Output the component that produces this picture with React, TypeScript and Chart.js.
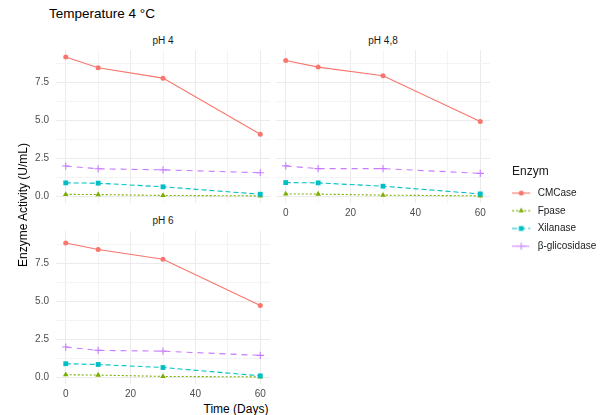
import React, { useEffect, useRef } from "react";
import { Chart, registerables } from "chart.js";
import { drawPoint } from "chart.js/helpers";

Chart.register(...registerables);

// ---------------- data ----------------
const days = [0, 10, 30, 60];
const enzymes = ["CMCase", "Fpase", "Xilanase", "β-glicosidase"];
const panelTitles = ["pH 4", "pH 4,8", "pH 6"];

const cmcasePH4 = [9.2, 8.49, 7.8, 4.09];
const fpasePH4 = [0.12, 0.11, 0.05, 0.02];
const xilanasePH4 = [0.88, 0.86, 0.62, 0.13];
const glicosidasePH4 = [1.99, 1.81, 1.74, 1.55];

const cmcasePH48 = [8.97, 8.53, 7.96, 4.93];
const fpasePH48 = [0.15, 0.14, 0.07, 0.02];
const xilanasePH48 = [0.9, 0.88, 0.66, 0.15];
const glicosidasePH48 = [2.0, 1.82, 1.82, 1.51];

const cmcasePH6 = [8.87, 8.44, 7.79, 4.73];
const fpasePH6 = [0.16, 0.14, 0.05, 0.02];
const xilanasePH6 = [0.89, 0.84, 0.64, 0.09];
const glicosidasePH6 = [1.99, 1.77, 1.72, 1.44];

const xTickLabels = [0, 20, 40, 60];
const xMinorTicks = [10, 30, 50];
const yTickLabels = [0, 2.5, 5, 7.5];
const yMinorTicks = [1.25, 3.75, 6.25, 8.75];

const panelSeries = [
  [cmcasePH4, fpasePH4, xilanasePH4, glicosidasePH4],
  [cmcasePH48, fpasePH48, xilanasePH48, glicosidasePH48],
  [cmcasePH6, fpasePH6, xilanasePH6, glicosidasePH6],
];

// ---------------- style ----------------
const FONT = "'Liberation Sans', Arial, Helvetica, sans-serif";
const colors = ["#F8766D", "#7CAE00", "#00BFC4", "#C77CFF"];
const dashes: number[][] = [[], [2, 2], [5, 3], [6, 5]];
const shapes = ["circle", "triangle", "rect", "cross"];
const radii = [2.5, 3.2, 3.4, 3.6];
const X_MIN = -3, X_MAX = 63, Y_MIN = -0.45, Y_MAX = 9.66;

type Geom = { left: number; top: number; width: number; height: number; yAxisW: number; xAxisH: number; showX: boolean; showY: boolean };
const geoms: Geom[] = [
  { left: 16, top: 50, width: 254, height: 153, yAxisW: 40, xAxisH: 0, showX: false, showY: true },
  { left: 276, top: 50, width: 214, height: 169, yAxisW: 0, xAxisH: 16, showX: true, showY: false },
  { left: 16, top: 231, width: 254, height: 169, yAxisW: 40, xAxisH: 16, showX: true, showY: true },
];
const stripPos = [
  { x: 163, y: 41 },
  { x: 383, y: 41 },
  { x: 163, y: 221 },
];

function zeroPad(s: any) {
  s.paddingLeft = 0; s.paddingRight = 0; s.paddingTop = 0; s.paddingBottom = 0;
}

function panelConfig(series: number[][], g: Geom): any {
  const xAll = [...xTickLabels, ...xMinorTicks].sort((a, b) => a - b);
  const yAll = [...yTickLabels, ...yMinorTicks].sort((a, b) => a - b);
  return {
    type: "line",
    data: {
      datasets: series.map((vals, i) => ({
        label: enzymes[i],
        data: days.map((d, k) => ({ x: d, y: vals[k] })),
        borderColor: colors[i],
        backgroundColor: colors[i],
        borderWidth: 1.1,
        borderDash: dashes[i],
        pointStyle: shapes[i],
        pointRadius: radii[i],
        pointBackgroundColor: colors[i],
        pointBorderColor: colors[i],
        pointBorderWidth: i === 3 ? 1.1 : 0,
        tension: 0,
        order: 3 - i,
        clip: false,
      })),
    },
    options: {
      responsive: false,
      animation: false,
      events: [],
      layout: { padding: 0, autoPadding: false },
      plugins: { legend: { display: false }, tooltip: { enabled: false }, title: { display: false } },
      scales: {
        x: {
          type: "linear",
          min: X_MIN,
          max: X_MAX,
          afterBuildTicks: (s: any) => { s.ticks = xAll.map((v) => ({ value: v })); },
          afterFit: (s: any) => { s.height = g.xAxisH; zeroPad(s); },
          ticks: {
            display: g.showX,
            autoSkip: false,
            maxRotation: 0,
            padding: 4,
            color: "#4D4D4D",
            font: { family: FONT, size: 10 },
            callback: (v: number) => (xTickLabels.includes(v) ? String(v) : ""),
          },
          grid: {
            drawTicks: false,
            lineWidth: 1,
            color: (ctx: any) => (ctx.tick && xTickLabels.includes(ctx.tick.value) ? "#EBEBEB" : "#F4F4F4"),
          },
          border: { display: false },
        },
        y: {
          type: "linear",
          position: "left",
          min: Y_MIN,
          max: Y_MAX,
          afterBuildTicks: (s: any) => { s.ticks = yAll.map((v) => ({ value: v })); },
          afterFit: (s: any) => { s.width = g.yAxisW; zeroPad(s); },
          ticks: {
            display: g.showY,
            autoSkip: false,
            padding: 7,
            color: "#4D4D4D",
            font: { family: FONT, size: 10 },
            callback: (v: number) => (yTickLabels.includes(v) ? v.toFixed(1) : ""),
          },
          grid: {
            drawTicks: false,
            lineWidth: 1,
            color: (ctx: any) => (ctx.tick && yTickLabels.includes(ctx.tick.value) ? "#EBEBEB" : "#F4F4F4"),
          },
          border: { display: false },
        },
      },
    },
  };
}

function makeKey(i: number): HTMLCanvasElement {
  const c = document.createElement("canvas");
  c.width = 28;
  c.height = 10;
  const g = c.getContext("2d")!;
  g.strokeStyle = colors[i];
  g.fillStyle = colors[i];
  g.lineWidth = 1.1;
  g.setLineDash(dashes[i]);
  g.beginPath();
  g.moveTo(0, 5);
  g.lineTo(18, 5);
  g.stroke();
  g.setLineDash([]);
  drawPoint(g, { pointStyle: shapes[i] as any, radius: radii[i], rotation: 0, borderWidth: i === 3 ? 1.1 : 0 }, 9, 5);
  return c;
}

function legendConfig(): any {
  return {
    type: "line",
    data: { datasets: enzymes.map((e) => ({ label: e, data: [] })) },
    options: {
      responsive: false,
      animation: false,
      events: [],
      layout: { padding: 0, autoPadding: false },
      scales: { x: { display: false }, y: { display: false } },
      plugins: {
        tooltip: { enabled: false },
        legend: {
          display: true,
          position: "chartArea",
          align: "start",
          title: {
            display: true,
            text: "Enzym",
            position: "start",
            color: "#1A1A1A",
            font: { family: FONT, size: 12 },
            padding: { top: 0, bottom: 0 },
          },
          labels: {
            usePointStyle: true,
            pointStyleWidth: 13,
            boxHeight: 10,
            padding: 7.7,
            color: "#1A1A1A",
            font: { family: FONT, size: 10 },
            generateLabels: () =>
              enzymes.map((e, i) => ({
                text: e,
                fillStyle: colors[i],
                strokeStyle: colors[i],
                lineWidth: 0,
                pointStyle: makeKey(i),
                hidden: false,
                datasetIndex: i,
                fontColor: "#1A1A1A",
              })),
          },
        },
      },
    },
  };
}

const textBase: React.CSSProperties = {
  position: "absolute",
  fontFamily: FONT,
  whiteSpace: "nowrap",
  lineHeight: 1,
  transform: "translate(-50%, -50%)",
};

export default function App() {
  const refs = [useRef<HTMLCanvasElement>(null), useRef<HTMLCanvasElement>(null), useRef<HTMLCanvasElement>(null)];
  const legendRef = useRef<HTMLCanvasElement>(null);

  useEffect(() => {
    const charts: Chart[] = [];
    refs.forEach((r, i) => {
      if (r.current) charts.push(new Chart(r.current, panelConfig(panelSeries[i], geoms[i])));
    });
    if (legendRef.current) charts.push(new Chart(legendRef.current, legendConfig()));
    return () => charts.forEach((c) => c.destroy());
  }, []);

  return (
    <div style={{ position: "fixed", left: 0, top: 0, width: 607, height: 415, background: "#fff", overflow: "hidden" }}>
      <div style={{ ...textBase, left: 49, top: 14, fontSize: 13.5, color: "#000", transform: "translate(0, -50%)" }}>
        Temperature 4 °C
      </div>
      {geoms.map((g, i) => (
        <canvas
          key={i}
          ref={refs[i]}
          width={g.width}
          height={g.height}
          style={{ position: "absolute", left: g.left, top: g.top, width: g.width, height: g.height, display: "block" }}
        />
      ))}
      {panelTitles.map((t, i) => (
        <div key={t} style={{ ...textBase, left: stripPos[i].x, top: stripPos[i].y, fontSize: 10, color: "#1A1A1A" }}>
          {t}
        </div>
      ))}
      <div style={{ ...textBase, left: 23, top: 205, fontSize: 12, color: "#000", transform: "translate(-50%, -50%) rotate(-90deg)" }}>
        Enzyme Activity (U/mL)
      </div>
      <div style={{ ...textBase, left: 236, top: 409, fontSize: 12, color: "#000" }}>Time (Days)</div>
      <canvas
        ref={legendRef}
        width={95}
        height={110}
        style={{ position: "absolute", left: 512, top: 166, width: 95, height: 110, display: "block" }}
      />
    </div>
  );
}
